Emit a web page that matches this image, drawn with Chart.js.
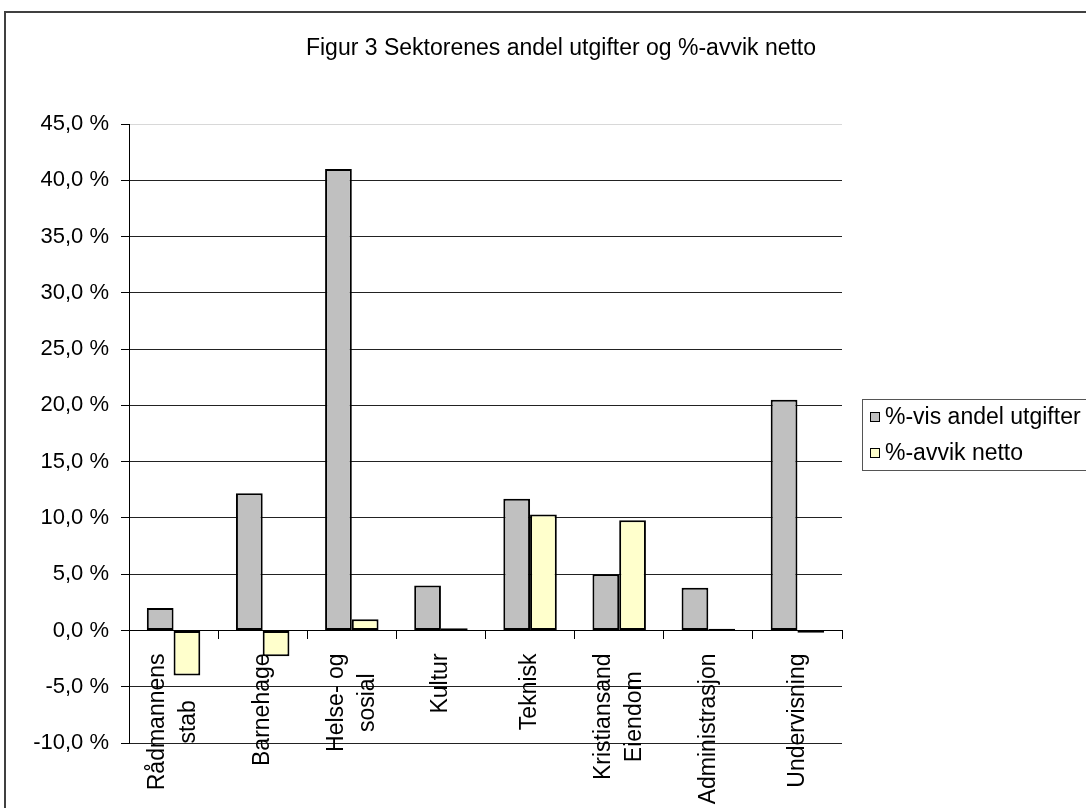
<!DOCTYPE html>
<html>
<head>
<meta charset="utf-8">
<script src="https://cdn.jsdelivr.net/npm/chart.js@4/dist/chart.umd.min.js"></script>
<style>
  html, body { margin: 0; padding: 0; background: #fff; }
  #wrap { position: relative; width: 1086px; height: 808px; }
</style>
</head>
<body>
<div id="wrap"><canvas id="c" width="1086" height="808"></canvas></div>
<script>
// ---- data ----
const TITLE = 'Figur 3 Sektorenes andel utgifter og %-avvik netto';
const categories = [
  ['Rådmannens', 'stab'],
  'Barnehage',
  ['Helse- og', 'sosial'],
  'Kultur',
  'Teknisk',
  ['Kristiansand', 'Eiendom'],
  'Administrasjon',
  'Undervisning'
];
const seriesNames = ['%-vis andel utgifter', '%-avvik netto'];
const andelUtgifter = [2.0, 12.2, 41.0, 4.0, 11.7, 5.0, 3.8, 20.5];
const avvikNetto = [-4.0, -2.3, 1.0, 0.2, 10.3, 9.8, 0.15, -0.2];
const yMin = -10, yMax = 45, yStep = 5;
const yTickLabels = ['-10,0 %', '-5,0 %', '0,0 %', '5,0 %', '10,0 %', '15,0 %', '20,0 %', '25,0 %', '30,0 %', '35,0 %', '40,0 %', '45,0 %'];

const FONT = '"Liberation Sans", Arial, sans-serif';
const colors = ['#c0c0c0', '#ffffcc'];

const framePlugin = {
  id: 'frame',
  beforeDraw(chart) {
    const ctx = chart.ctx;
    ctx.save();
    ctx.fillStyle = '#fff';
    ctx.fillRect(0, 0, chart.width, chart.height);
    ctx.strokeStyle = '#404040';
    ctx.lineWidth = 2;
    ctx.strokeRect(5, 12, 1200, 1000);
    // title
    ctx.fillStyle = '#000';
    ctx.font = '23px ' + FONT;
    ctx.textAlign = 'center';
    ctx.textBaseline = 'alphabetic';
    ctx.fillText(TITLE, 561, 55);
    ctx.restore();

    // center multi-line rotated x labels, anchored at top
    const sc = chart.scales.x;
    const items = sc.getLabelItems(chart.chartArea);
    const y0 = chart.scales.y.getPixelForValue(0);
    items.forEach((it, i) => {
      const lines = Array.isArray(it.label) ? it.label : [it.label];
      ctx.save();
      ctx.font = it.font.string;
      const w = Math.max(...lines.map(l => ctx.measureText(l).width));
      ctx.restore();
      const lh = it.font.lineHeight;
      it.textOffset = -(lines.length - 1) * lh / 2;
      it.options.textAlign = 'center';
      it.options.textBaseline = 'middle';
      it.options.translation = [sc.getPixelForTick(i), y0 + 23 + w / 2];
    });
  },
  afterDraw(chart) {
    // legend
    const ctx = chart.ctx;
    ctx.save();
    ctx.strokeStyle = '#555';
    ctx.lineWidth = 1;
    ctx.strokeRect(862.5, 399.5, 400, 71);
    ctx.font = '23px ' + FONT;
    ctx.textBaseline = 'middle';
    ctx.textAlign = 'left';
    chart.data.datasets.forEach((ds, i) => {
      const cy = 417 + i * 36;
      ctx.fillStyle = ds.backgroundColor;
      ctx.fillRect(870.5, cy - 4.5, 9, 9);
      ctx.strokeStyle = '#000';
      ctx.strokeRect(870.5, cy - 4.5, 9, 9);
      ctx.fillStyle = '#000';
      ctx.fillText(ds.label, 885, cy + 1);
    });
    ctx.restore();
  }
};

new Chart(document.getElementById('c'), {
  type: 'bar',
  data: {
    labels: categories,
    datasets: [
      { label: seriesNames[0], data: andelUtgifter, backgroundColor: colors[0], borderColor: '#000', borderWidth: 2, borderSkipped: false },
      { label: seriesNames[1], data: avvikNetto, backgroundColor: colors[1], borderColor: '#000', borderWidth: 2, borderSkipped: false }
    ]
  },
  options: {
    responsive: false,
    animation: false,
    events: [],
    layout: { padding: { left: 0, top: 124, right: 244, bottom: 65 } },
    categoryPercentage: 0.6,
    barPercentage: 1.0,
    plugins: { legend: { display: false }, title: { display: false }, tooltip: { enabled: false } },
    scales: {
      x: {
        position: { y: 0 },
        offset: true,
        grid: { offset: true, drawOnChartArea: false, drawTicks: true, tickLength: 8, color: '#000', tickColor: '#000' },
        border: { display: true, color: '#000', width: 1 },
        ticks: {
          autoSkip: false, minRotation: 90, maxRotation: 90, color: '#000',
          font: { family: FONT, size: 23, lineHeight: 1.35 }
        },
        afterFit(scale) { scale.height = 0; }
      },
      y: {
        min: yMin, max: yMax,
        grid: { color: (c) => (c.tick && c.tick.value === yMax ? '#d8d8d8' : '#222'), tickColor: '#000', tickLength: 8, lineWidth: 1 },
        border: { display: true, color: '#000', width: 1 },
        ticks: {
          stepSize: yStep, color: '#000', padding: 12,
          font: { family: FONT, size: 22 },
          callback: (v) => yTickLabels[Math.round((v - yMin) / yStep)]
        },
        afterFit(scale) { scale.width = 129; }
      }
    }
  },
  plugins: [framePlugin]
});
</script>
</body>
</html>
